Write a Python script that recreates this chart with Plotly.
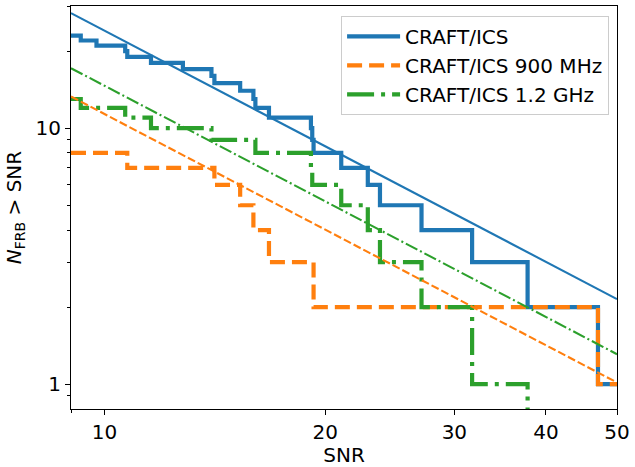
import numpy as np
import plotly.graph_objects as go

# ---- data ----
snr_all = [9.28, 9.75, 10.67, 10.74, 11.57, 12.79, 13.99, 14.12, 15.31, 15.96, 16.06,
           16.76, 19.12, 19.20, 19.28, 21.03, 22.86, 23.75, 27.06, 31.72, 37.76, 47.1, 60.0]
snr_900 = [10.74, 14.12, 15.31, 15.96, 16.76, 19.28, 47.1, 60.0]
snr_1200 = [9.28, 10.67, 11.57, 13.99, 16.06, 19.12, 19.20, 21.03, 22.86, 23.75,
            27.06, 31.72, 37.76]
# power-law fit normalisations, N(>SNR) = A * SNR^index
fit_index = -1.5
fit_amp_all = 760.0
fit_amp_900 = 359.0
fit_amp_1200 = 463.0

snr_min, snr_max = 9.0, 50.0
y_min, y_max = 0.8, 30.0

names = ["CRAFT/ICS", "CRAFT/ICS 900 MHz", "CRAFT/ICS 1.2 GHz"]
colors = ["#1f77b4", "#ff7f0e", "#2ca02c"]
step_dash = ["solid", "15px,7px", "27px,7px,4px,7px"]
fit_dash = ["solid", "8px,3px", "13px,3px,2px,3px"]


def cumulative(snrs):
    s = np.sort(np.array(snrs))
    inside = s[(s > snr_min) & (s < snr_max)]
    xs = np.concatenate([[snr_min], inside, [snr_max]])
    ys = np.array([np.sum(s > v) for v in xs], dtype=float)
    ys = np.where(ys < 1, 0.5, ys)  # zero counts: draw the drop off the log axis
    return xs, ys


fig = go.Figure()
series = [snr_all, snr_900, snr_1200]
for snrs, name, col, dash in zip(series, names, colors, step_dash):
    xs, ys = cumulative(snrs)
    fig.add_trace(go.Scatter(x=xs, y=ys, mode="lines", name=name,
                             line=dict(color=col, width=4.2, dash=dash, shape="hv")))

xfit = np.geomspace(snr_min, snr_max, 60)
for amp, col, dash in zip([fit_amp_all, fit_amp_900, fit_amp_1200], colors, fit_dash):
    fig.add_trace(go.Scatter(x=xfit, y=amp * xfit ** fit_index, mode="lines",
                             showlegend=False,
                             line=dict(color=col, width=2.1, dash=dash)))

font = dict(family="DejaVu Sans", size=20, color="black")
axis_common = dict(type="log", showgrid=False, zeroline=False, showline=True,
                   linecolor="black", linewidth=1.1, mirror=True,
                   ticks="outside", ticklen=5, tickwidth=1.1, tickcolor="black",
                   tickfont=font)

fig.update_layout(
    width=635, height=467,
    margin=dict(l=71, r=14, t=5, b=56.5),
    paper_bgcolor="white", plot_bgcolor="white",
    font=font,
    xaxis=dict(axis_common, range=[np.log10(snr_min), np.log10(snr_max)],
               tickvals=[10, 20, 30, 40, 50], ticktext=["10", "20", "30", "40", "50"],
               minor=dict(tickvals=[9], ticks="outside", ticklen=3, tickcolor="black"),
               title=dict(text="SNR", font=font, standoff=4)),
    yaxis=dict(axis_common, range=[np.log10(y_min), np.log10(y_max)],
               tickvals=[1, 10], ticktext=["1", "10"],
               minor=dict(tickvals=[0.9, 2, 3, 4, 5, 6, 7, 8, 9, 20, 30], ticks="outside",
                          ticklen=3, tickcolor="black"),
               title=dict(text="<i>N</i><sub>FRB</sub> &gt; SNR", font=font, standoff=8)),
    legend=dict(x=0.9855, y=0.9753, xanchor="right", yanchor="top",
                bgcolor="rgba(255,255,255,0.8)", bordercolor="#cccccc", borderwidth=1,
                font=font, itemwidth=53),
    showlegend=True,
)

fig.write_html("out.html", config={"displayModeBar": False},
               post_script="document.body.style.margin='0px';")
